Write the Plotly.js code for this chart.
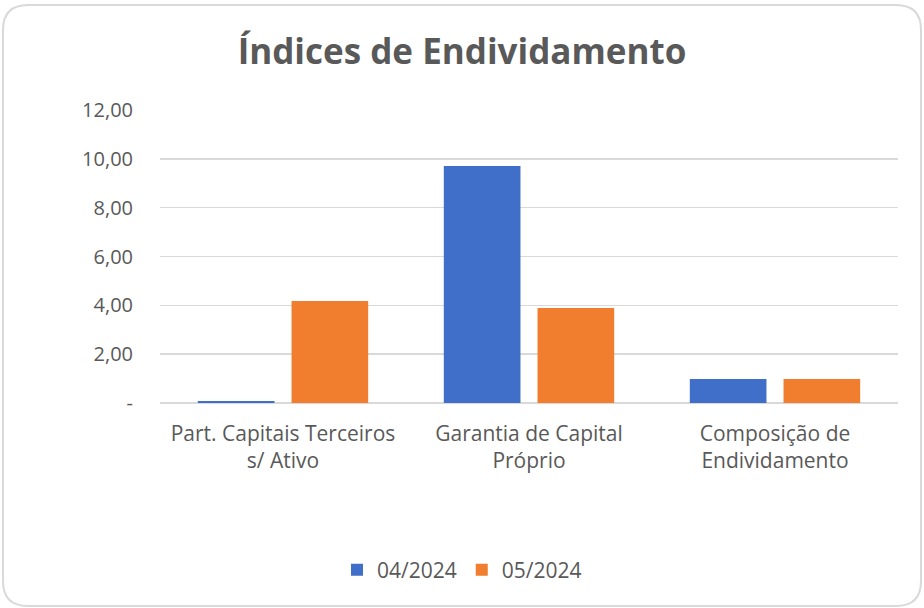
<!DOCTYPE html>
<html><head><meta charset="utf-8">
<script src="https://cdn.plot.ly/plotly-3.0.1.min.js"></script>
<style>html,body{margin:0;padding:0;background:#fff}#chart{width:924px;height:608px}</style>
</head><body><div id="chart"></div>
<script>
const categories = ["Part. Capitais Terceiros<br>s/ Ativo", "Garantia de Capital<br>Próprio", "Composição de<br>Endividamento"];
const series1Name = "04/2024";
const series2Name = "05/2024";
const series1Values = [0.08, 9.71, 0.98];
const series2Values = [4.18, 3.89, 0.98];
const yTickVals = [0, 2, 4, 6, 8, 10, 12];
const yTickText = ["-", "2,00", "4,00", "6,00", "8,00", "10,00", "12,00"];

const W = 924, H = 608;
const L = 160, R = 26, T = 110, B = 205;
const pw = W - L - R, ph = H - T - B;
function px(x){return (x - L) / pw;}
function py(y){return (H - B - y) / ph;}
const fx0 = 3, fx1 = 921, fy0 = 5, fy1 = 606, rr = 25;
const framePath = [
  `M ${px(fx0+rr)} ${py(fy0)}`,
  `L ${px(fx1-rr)} ${py(fy0)}`,
  `Q ${px(fx1)} ${py(fy0)} ${px(fx1)} ${py(fy0+rr)}`,
  `L ${px(fx1)} ${py(fy1-rr)}`,
  `Q ${px(fx1)} ${py(fy1)} ${px(fx1-rr)} ${py(fy1)}`,
  `L ${px(fx0+rr)} ${py(fy1)}`,
  `Q ${px(fx0)} ${py(fy1)} ${px(fx0)} ${py(fy1-rr)}`,
  `L ${px(fx0)} ${py(fy0+rr)}`,
  `Q ${px(fx0)} ${py(fy0)} ${px(fx0+rr)} ${py(fy0)} Z`
].join(" ");

const font = "Open Sans, Noto Sans, sans-serif";
const data = [
  {type:"bar", name:series1Name, x:categories, y:series1Values,
   marker:{color:"#3f6fc9", line:{width:0}}},
  {type:"bar", name:series2Name, x:categories, y:series2Values,
   marker:{color:"#f07e2e", line:{width:0}}}
];
const layout = {
  width: W, height: H,
  margin:{l:L, r:R, t:T, b:B},
  paper_bgcolor:"#ffffff", plot_bgcolor:"rgba(0,0,0,0)",
  font:{family:font, color:"#595959", size:20},
  title:{text:"<b>Índices de Endividamento</b>", x:0.5, xanchor:"center", xref:"container",
         y:1-52/608, yanchor:"middle", yref:"container",
         font:{family:font, size:35, color:"#595959"}},
  barmode:"group", bargap:0.238, bargroupgap:0.182,
  xaxis:{type:"category", showgrid:false, zeroline:false, showline:false,
         ticks:"", tickfont:{size:21, color:"#595959"}, ticklabelstandoff:16},
  yaxis:{range:[0,12], tickvals:yTickVals, ticktext:yTickText,
         showgrid:true, gridcolor:"#d9d9d9", gridwidth:1.5,
         zeroline:true, zerolinecolor:"#d9d9d9", zerolinewidth:1.5,
         showline:false, ticks:"", ticklabelstandoff:26,
         tickfont:{size:20, color:"#595959"}},
  showlegend:true,
  legend:{orientation:"h", x:0.5, xref:"container", xanchor:"center",
          y:1-570/608, yref:"container", yanchor:"middle",
          font:{size:21, color:"#595959"}, itemwidth:30, traceorder:"normal"},
  shapes:[{type:"path", xref:"paper", yref:"paper", path:framePath,
           line:{color:"#d9d9d9", width:2}, fillcolor:"rgba(0,0,0,0)", layer:"below"}]
};
Plotly.newPlot("chart", data, layout, {staticPlot:true, displayModeBar:false});
</script></body></html>
